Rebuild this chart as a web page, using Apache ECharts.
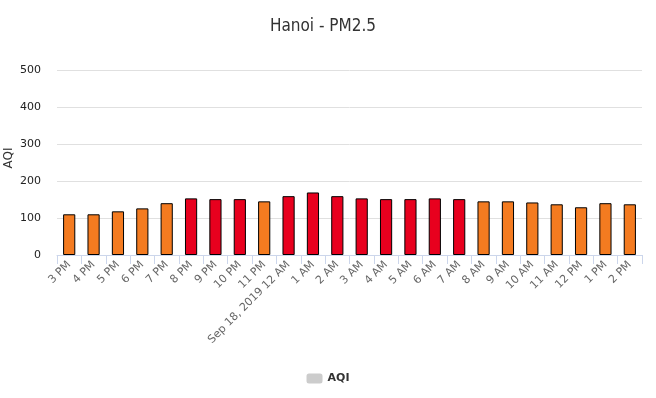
<!DOCTYPE html>
<html>
<head>
<meta charset="utf-8">
<script src="https://cdn.jsdelivr.net/npm/echarts@6/dist/echarts.min.js"></script>
<style>
  html, body { margin: 0; padding: 0; background: #fff; }
  #chart { width: 656px; height: 398px; }
</style>
</head>
<body>
<div id="chart"></div>
<script>
// hourly readings, Sep 17-18 2019
var hours = ['3 PM', '4 PM', '5 PM', '6 PM', '7 PM', '8 PM', '9 PM', '10 PM', '11 PM',
    'Sep 18, 2019 12 AM', '1 AM', '2 AM', '3 AM', '4 AM', '5 AM', '6 AM', '7 AM',
    '8 AM', '9 AM', '10 AM', '11 AM', '12 PM', '1 PM', '2 PM']
var aqi = [110, 110, 118, 126, 140, 153, 151, 151, 145,
    159, 169, 159, 153, 151, 151, 153, 151,
    145, 145, 142, 137, 129, 140, 137]
var yTicks = [0, 100, 200, 300, 400, 500]

var font = '"DejaVu Sans", Verdana, sans-serif'

var chart = echarts.init(document.getElementById('chart'))
var option = {
    animation: false,
    title: {
        text: 'Hanoi - PM2.5',
        left: 318,
        textAlign: 'center',
        top: 13,
        textStyle: { fontFamily: '"DejaVu Sans Condensed", "DejaVu Sans", sans-serif', fontSize: 17, fontWeight: 'normal', color: '#333' }
    },
    legend: {
        bottom: 9,
        left: 'center',
        itemWidth: 16,
        itemHeight: 10,
        itemGap: 6,
        textStyle: { fontFamily: font, fontSize: 11, fontWeight: 'bold', color: '#333' },
        data: [{ name: 'AQI', itemStyle: { color: '#cccccc', borderWidth: 0 } }]
    },
    // y axis title, drawn by hand (v6 keeps shoving the axis name off the page)
    graphic: [{
        type: 'text',
        x: 9,
        y: 158,
        rotation: Math.PI / 2,
        style: { text: 'AQI', fontFamily: font, fontSize: 12, fill: '#333', align: 'center', verticalAlign: 'middle' }
    }],
    grid: { left: 57, right: 14, top: 70, bottom: 143, containLabel: false, outerBoundsMode: 'none' },
    xAxis: {
        type: 'category',
        data: hours,
        axisLine: { lineStyle: { color: '#ccd6eb' } },
        axisTick: { show: true, alignWithLabel: false, length: 9, lineStyle: { color: '#ccd6eb' } },
        axisLabel: { rotate: 45, interval: 0, margin: 8, fontFamily: font, fontSize: 11, color: '#666' }
    },
    yAxis: {
        type: 'value',
        min: yTicks[0],
        max: yTicks[yTicks.length - 1],
        interval: 100,
        axisLabel: { fontFamily: font, fontSize: 11, color: '#222', margin: 16 },
        splitLine: { lineStyle: { color: '#e0e0e0' } }
    },
    series: [{
        name: 'AQI',
        type: 'bar',
        data: aqi,
        barWidth: '50%',
        itemStyle: {
            color: function (p) { return p.value > 150 ? '#e8001e' : '#f47b20' },
            borderColor: '#000',
            borderWidth: 1
        }
    }]
}
chart.setOption(option)
</script>
</body>
</html>
